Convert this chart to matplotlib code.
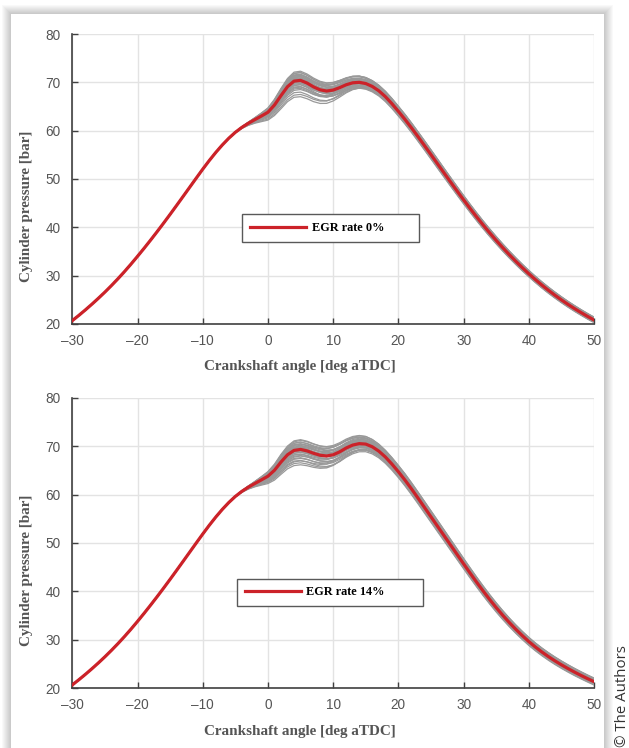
import numpy as np
import matplotlib.pyplot as plt
from matplotlib.patches import Rectangle

# crank angle grid, 1 deg steps [deg aTDC]
theta = np.arange(-30, 51)

# ensemble-mean cylinder pressure [bar], EGR 0 %
p_mean_egr0 = [
    20.70, 21.78, 22.91, 24.09, 25.32, 26.60, 27.95, 29.36, 30.84, 32.39,   # -30..-21
    34.00, 35.65, 37.35, 39.09, 40.87, 42.69, 44.54, 46.41, 48.29, 50.17,   # -20..-11
    52.03, 53.81, 55.49, 57.04, 58.44, 59.66, 60.68, 61.53, 62.29, 63.03,   # -10..-1
    63.81, 65.30, 67.25, 69.10, 70.25, 70.40, 69.85, 69.05, 68.45, 68.20,   # 0..9
    68.40, 68.90, 69.50, 69.90, 70.00, 69.75, 69.15, 68.25, 67.05, 65.60,   # 10..19
    64.00, 62.35, 60.60, 58.78, 56.92, 55.04, 53.15, 51.26, 49.38, 47.52,   # 20..29
    45.69, 43.90, 42.16, 40.48, 38.86, 37.30, 35.80, 34.36, 32.98, 31.66,   # 30..39
    30.40, 29.20, 28.06, 26.98, 25.96, 24.99, 24.07, 23.20, 22.37, 21.58,   # 40..49
    20.83,
]

# ensemble-mean cylinder pressure [bar], EGR 14 %
p_mean_egr14 = [
    20.70, 21.76, 22.87, 24.03, 25.24, 26.50, 27.83, 29.22, 30.68, 32.21,
    33.81, 35.46, 37.16, 38.90, 40.68, 42.50, 44.35, 46.22, 48.10, 49.98,
    51.84, 53.64, 55.34, 56.92, 58.35, 59.60, 60.65, 61.52, 62.28, 63.02,
    63.78, 65.00, 66.70, 68.20, 69.10, 69.30, 69.00, 68.50, 68.10, 67.95,
    68.20, 68.80, 69.60, 70.20, 70.50, 70.40, 69.85, 68.95, 67.75, 66.30,
    64.70, 63.00, 61.18, 59.28, 57.34, 55.40, 53.46, 51.52, 49.58, 47.64,
    45.70, 43.78, 41.90, 40.08, 38.33, 36.66, 35.08, 33.59, 32.19, 30.88,
    29.65, 28.53, 27.50, 26.55, 25.67, 24.85, 24.08, 23.35, 22.66, 22.00,
    21.37,
]

# cycle-to-cycle deviation shapes [bar]: early (premixed) and late burn
dev_early = [0.0] * 24 + [
    0.02, 0.06, 0.14, 0.28, 0.48, 0.75,                           # -6..-1
    1.05, 1.40, 1.75, 2.00, 2.15, 2.15, 2.05, 1.90, 1.72, 1.52,   # 0..9
    1.30, 1.08, 0.88, 0.70, 0.56, 0.45, 0.37, 0.31, 0.27, 0.24,   # 10..19
    0.22, 0.21, 0.21, 0.20, 0.20, 0.19, 0.19, 0.18, 0.18, 0.17,   # 20..29
    0.17, 0.16, 0.16, 0.16, 0.15, 0.15, 0.15, 0.14, 0.14, 0.14,   # 30..39
    0.14, 0.13, 0.13, 0.13, 0.13, 0.13, 0.13, 0.13, 0.13, 0.13,   # 40..49
    0.13,
]
dev_late = [0.0] * 34 + [
    0.05, 0.12, 0.22, 0.35, 0.50, 0.65,                           # 4..9
    0.80, 0.93, 1.03, 1.10, 1.12, 1.12, 1.10, 1.07, 1.04, 1.02,   # 10..19
    1.00, 1.00, 0.98, 0.97, 0.96, 0.95, 0.94, 0.92, 0.90, 0.88,   # 20..29
    0.86, 0.84, 0.82, 0.80, 0.78, 0.76, 0.74, 0.72, 0.70, 0.68,   # 30..39
    0.66, 0.65, 0.64, 0.63, 0.62, 0.61, 0.60, 0.59, 0.58, 0.57,   # 40..49
    0.56,
]

# per-cycle weights of the two deviation shapes
cyc_a_egr0 = [0.85, 0.75, 0.7, 0.6, 0.55, 0.5, 0.45, 0.4, 0.35, 0.3,
              0.25, 0.2, 0.15, 0.1, 0.05, 0.0, -0.05, -0.1, -0.15, -0.2,
              -0.3, -0.35, -0.45, -0.55, -0.65, -0.75, -0.9, -1.1, -1.35, -1.55]
cyc_b_egr0 = [0.6, 0.3, 0.8, -0.2, 0.5, 0.1, 0.9, -0.5, 0.4, 1.0,
              -0.1, 0.2, -0.7, 0.6, -0.3, 0.3, -0.8, 0.0, 0.7, -0.4,
              0.2, -0.9, 0.5, -0.6, 0.1, -0.2, 0.4, -0.5, 0.0, -0.3]
cyc_a_egr14 = [0.9, 0.8, 0.7, 0.65, 0.55, 0.5, 0.45, 0.4, 0.3, 0.25,
               0.2, 0.15, 0.1, 0.05, 0.0, -0.05, -0.1, -0.15, -0.25, -0.3,
               -0.4, -0.45, -0.55, -0.65, -0.75, -0.85, -1.0, -1.1, -1.25, -1.45]
cyc_b_egr14 = [0.7, 1.1, 0.2, 0.9, -0.3, 0.5, 1.2, 0.0, 0.6, -0.6,
               0.9, 0.3, -0.4, 0.5, -0.1, 0.8, -0.7, 0.2, -0.3, 0.4,
               -0.9, 0.1, -0.5, 0.3, -0.8, -0.2, -1.0, 0.0, -0.6, -0.4]

x_ticks = [-30, -20, -10, 0, 10, 20, 30, 40, 50]
x_tick_labels = ['\u201330', '\u201320', '\u201310', '0', '10', '20', '30', '40', '50']
y_ticks = [20, 30, 40, 50, 60, 70, 80]

RED = '#cc2229'
GRAY = '#999999'
TXT = '#555555'

W, H = 629, 748
fig = plt.figure(figsize=(W / 100, H / 100), dpi=100)
fig.patch.set_facecolor('white')

# card with soft drop shadow, kept behind the axes
cx0, cx1, cy1 = 11 / W, 604 / W, 1 - 14 / H
for k in range(1, 10):
    dx, dy = k / W, k / H
    fig.patches.append(Rectangle((cx0 - dx, -0.1), cx1 - cx0 + 2 * dx, cy1 + 0.1 + dy,
                                 transform=fig.transFigure, facecolor='black',
                                 edgecolor='none', alpha=0.024, zorder=-3))
fig.patches.append(Rectangle((cx0, -0.1), cx1 - cx0, cy1 + 0.1,
                             transform=fig.transFigure, facecolor='white',
                             edgecolor='none', zorder=-2))

ax_left = 72.3 / W
ax_w = (594 - 72.3) / W
ax_top = fig.add_axes([ax_left, 1 - 324 / H, ax_w, 290 / H])
ax_bot = fig.add_axes([ax_left, 1 - 688.3 / H, ax_w, 290.7 / H])


def draw_panel(ax, mean, cyc_a, cyc_b, label, box):
    mean = np.asarray(mean)
    de = np.asarray(dev_early)
    dl = np.asarray(dev_late)
    for a, b in zip(cyc_a, cyc_b):
        ax.plot(theta, mean + a * de + b * dl, color=GRAY, lw=0.9, zorder=2)
    ax.plot(theta, mean, color=RED, lw=2.3, label=label, zorder=3)

    ax.set_xlim(-30, 50)
    ax.set_ylim(20, 80)
    ax.set_xticks(x_ticks)
    ax.set_xticklabels(x_tick_labels)
    ax.set_yticks(y_ticks)
    ax.set_facecolor('none')
    ax.grid(True, color='#e3e3e3', lw=1.0, zorder=0)
    ax.set_axisbelow(True)
    for s in ['top', 'right']:
        ax.spines[s].set_visible(False)
    for s in ['left', 'bottom']:
        ax.spines[s].set_color('#404040')
        ax.spines[s].set_linewidth(1.2)
    ax.tick_params(direction='in', length=4.5, width=1, color='#404040',
                   labelsize=9.8, labelcolor=TXT)
    ax.tick_params(axis='x', pad=7)
    ax.tick_params(axis='y', pad=8.5)
    for t in ax.get_xticklabels() + ax.get_yticklabels():
        t.set_family('Liberation Sans')

    ax.set_xlabel('Crankshaft angle [deg aTDC]', family='Liberation Serif',
                  weight='bold', fontsize=10.9, color=TXT)
    ax.xaxis.set_label_coords(0.436, -0.125)
    ax.set_ylabel('Cylinder pressure [bar]', family='Liberation Serif',
                  weight='bold', fontsize=10.9, color=TXT, va='center')
    ax.yaxis.set_label_coords(-0.087, 0.406)

    leg = ax.legend(loc='center left', bbox_to_anchor=box, mode='expand',
                    borderaxespad=0, fancybox=False, framealpha=1,
                    edgecolor='#595959', handlelength=4.6, handletextpad=0.45,
                    borderpad=0.62,
                    prop={'family': 'Liberation Serif', 'weight': 'bold', 'size': 8.8})
    leg.get_frame().set_linewidth(1.0)
    leg.set_zorder(5)


draw_panel(ax_top, p_mean_egr0, cyc_a_egr0, cyc_b_egr0, 'EGR rate 0%',
           (0.326, 0.283, 0.339, 0.096))
draw_panel(ax_bot, p_mean_egr14, cyc_a_egr14, cyc_b_egr14, 'EGR rate 14%',
           (0.316, 0.286, 0.357, 0.089))

fig.text(622 / W, 1 - 696 / H, '\u00a9 The Authors', rotation=90, ha='center',
         va='center', fontsize=10.8, family='Open Sans', color='#333333')

fig.savefig('out.png', dpi=100)
